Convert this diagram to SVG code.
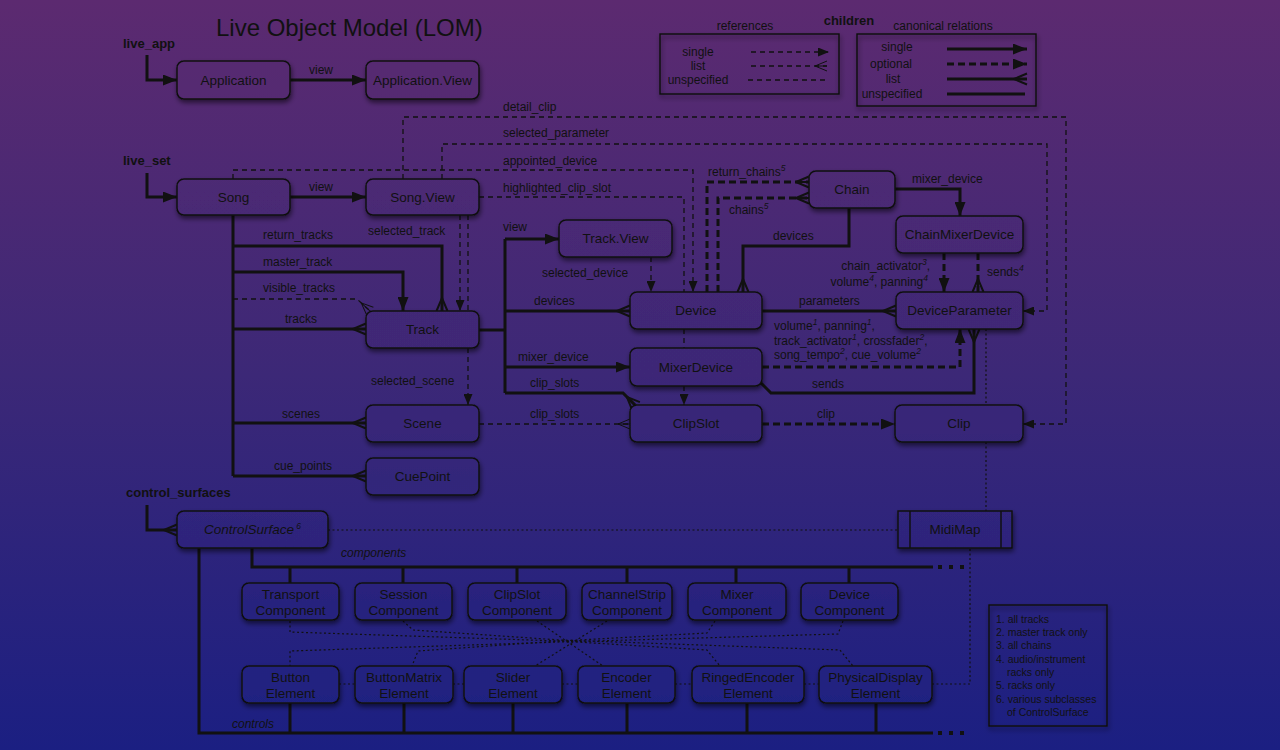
<svg xmlns="http://www.w3.org/2000/svg" width="1280" height="750" viewBox="0 0 1280 750">
<defs>
<linearGradient id="bg" gradientUnits="userSpaceOnUse" x1="0" y1="0" x2="0" y2="750">
<stop offset="0" stop-color="#5c2a70"/>
<stop offset="0.5" stop-color="#3c2877"/>
<stop offset="1" stop-color="#1b1f82"/>
</linearGradient>
<filter id="sh" x="-20%" y="-30%" width="140%" height="180%">
<feDropShadow dx="1" dy="3" stdDeviation="2.5" flood-color="#000" flood-opacity="0.55"/>
</filter>
<marker id="a" markerUnits="userSpaceOnUse" markerWidth="14" markerHeight="11" viewBox="0 0 14 11" refX="14" refY="5.5" orient="auto"><path d="M0,0 L14,5.5 L0,11 z" fill="#111"/></marker>
<marker id="at" markerUnits="userSpaceOnUse" markerWidth="11" markerHeight="9" viewBox="0 0 11 9" refX="11" refY="4.5" orient="auto"><path d="M0,0 L11,4.5 L0,9 z" fill="#111"/></marker>
<marker id="c" markerUnits="userSpaceOnUse" markerWidth="14" markerHeight="14" viewBox="0 0 14 14" refX="13" refY="7" orient="auto" overflow="visible"><path d="M0,7 L13,1.5 M0,7 L13,7 M0,7 L13,12.5" fill="none" stroke="#111" stroke-width="2"/></marker>
<marker id="ct" markerUnits="userSpaceOnUse" markerWidth="12" markerHeight="12" viewBox="0 0 12 12" refX="12" refY="6" orient="auto" overflow="visible"><path d="M0,6 L12,1 M0,6 L12,6 M0,6 L12,11" fill="none" stroke="#111" stroke-width="1"/></marker>
</defs>
<style>
text{font-family:"Liberation Sans",Arial,Helvetica,sans-serif;fill:#111}
.n rect{fill:url(#bg);stroke:#111;stroke-width:1.5;filter:url(#sh)}
.n text{font-size:13.5px;text-anchor:middle}
.lb{font-size:12px}
.bold{font-weight:bold;font-size:13px}
.sup{font-size:8.5px;font-style:italic;baseline-shift:super}
.s{fill:none;stroke:#111;stroke-width:3}
.o{fill:none;stroke:#111;stroke-width:3;stroke-dasharray:7 4}
.r{fill:none;stroke:#111;stroke-width:1.3;stroke-dasharray:5 4}
.d{fill:none;stroke:#111;stroke-width:1.2;stroke-dasharray:2 2.5}
.dots{fill:none;stroke:#111;stroke-width:4;stroke-dasharray:4 7}
.leg{fill:none;stroke:#111;stroke-width:1.5;filter:url(#sh)}
</style>
<rect x="0" y="0" width="1280" height="750" fill="url(#bg)"/>

<text x="216" y="36" style="font-size:24px">Live Object Model (LOM)</text>
<text x="123" y="48" class="bold">live_app</text>
<text x="123" y="165" class="bold">live_set</text>
<text x="126" y="497" class="bold">control_surfaces</text>

<g id="legend">
<rect x="660" y="34" width="179" height="60" class="leg"/>
<rect x="857" y="34" width="179" height="72" class="leg"/>
<text x="745" y="30" class="lb" text-anchor="middle">references</text>
<text x="849" y="25" class="bold" text-anchor="middle">children</text>
<text x="943" y="30" class="lb" text-anchor="middle">canonical relations</text>
<text x="698" y="56" class="lb" text-anchor="middle">single</text>
<text x="698" y="70" class="lb" text-anchor="middle">list</text>
<text x="698" y="84" class="lb" text-anchor="middle">unspecified</text>
<text x="897" y="51" class="lb" text-anchor="middle">single</text>
<text x="891" y="68" class="lb" text-anchor="middle">optional</text>
<text x="893" y="83" class="lb" text-anchor="middle">list</text>
<text x="892" y="98" class="lb" text-anchor="middle">unspecified</text>
<path d="M751,52 H829" class="r" marker-end="url(#at)"/>
<path d="M751,66 H827" class="r" marker-end="url(#ct)"/>
<path d="M748,80 H828" class="r"/>
<path d="M947,49 H1027" class="s" marker-end="url(#a)"/>
<path d="M947,64 H1027" class="o" marker-end="url(#a)"/>
<path d="M947,79 H1027" class="s" marker-end="url(#c)"/>
<path d="M947,94 H1025" class="s"/>
</g>

<g id="connectors">
<path d="M147,55 V80 H177" class="s" marker-end="url(#a)"/>
<path d="M290,80 H366" class="s" marker-end="url(#a)"/>
<path d="M147,173 V197 H177" class="s" marker-end="url(#a)"/>
<path d="M290,197 H366" class="s" marker-end="url(#a)"/>
<path d="M233,215 V476" class="s"/>
<path d="M233,246 H442 V311" class="s" marker-end="url(#c)"/>
<path d="M233,272 H403 V311" class="s" marker-end="url(#a)"/>
<path d="M233,299 H357 L370,311" class="r" marker-end="url(#ct)"/>
<path d="M233,329 H366" class="s" marker-end="url(#c)"/>
<path d="M233,423 H366" class="s" marker-end="url(#c)"/>
<path d="M233,476 H366" class="s" marker-end="url(#c)"/>
<path d="M460,215 V311" class="r" marker-end="url(#at)"/>
<path d="M468,215 V311 M468,348 V405" class="r" marker-end="url(#at)"/>
<path d="M403,179 V117 H1066 V424 H1023" class="r" marker-end="url(#at)"/>
<path d="M442,179 V144 H1047 V311 H1023" class="r" marker-end="url(#at)"/>
<path d="M233,179 V170 H693 V292" class="r" marker-end="url(#at)"/>
<path d="M479,197 H684 V292 M684,329 V348 M684,386 V405" class="r" marker-end="url(#at)"/>
<path d="M479,330 H505 M505,239 V393" class="s"/>
<path d="M505,239 H559" class="s" marker-end="url(#a)"/>
<path d="M505,311 H630" class="s" marker-end="url(#c)"/>
<path d="M505,367 H630" class="s" marker-end="url(#a)"/>
<path d="M505,393 H623 L636,406" class="s" marker-end="url(#c)"/>
<path d="M479,424 H630" class="r" marker-end="url(#ct)"/>
<path d="M651,257 V292" class="r" marker-end="url(#at)"/>
<path d="M707,292 V182 H809" class="o" marker-end="url(#c)"/>
<path d="M718,292 V198 H809" class="o" marker-end="url(#c)"/>
<path d="M849,208 V246 H743 V292" class="s" marker-end="url(#c)"/>
<path d="M895,189 H960 V216" class="s" marker-end="url(#a)"/>
<path d="M944,253 V292" class="o" marker-end="url(#a)"/>
<path d="M978,253 V292" class="o" marker-end="url(#c)"/>
<path d="M762,311 H896" class="s" marker-end="url(#c)"/>
<path d="M762,367 H960 V329" class="o" marker-end="url(#a)"/>
<path d="M760,382 L771,393 H974 V329" class="s" marker-end="url(#c)"/>
<path d="M762,424 H895" class="o" marker-end="url(#a)"/>
<path d="M986,329 V405 M986,442 V511" class="d"/>
<path d="M147,505 V530 H177" class="s" marker-end="url(#c)"/>
<path d="M328,530 H898" class="d"/>
<path d="M252,548 V567 H933 M290,567 V583 M403,567 V583 M517,567 V583 M627,567 V583 M736,567 V583 M849,567 V583" class="s"/>
<path d="M938,567 H966" class="dots"/>
<path d="M199,548 V733 H933 M290,703 V733 M404,703 V733 M513,703 V733 M627,703 V733 M747,703 V733 M876,703 V733" class="s"/>
<path d="M938,733 H966" class="dots"/>
<path d="M290,621 V632 L560,641 L707,650 L720,666" class="d"/>
<path d="M403,621 L413,630 L560,640 L840,650 L853,666" class="d"/>
<path d="M537,621 L603,666" class="d"/>
<path d="M607,621 L535,666" class="d"/>
<path d="M715,621 L707,633 L560,641 L418,651 L412,666" class="d"/>
<path d="M843,621 L838,634 L560,642 L290,651 V666" class="d"/>
<path d="M339,684 H355 M453,684 H464 M562,684 H578 M675,684 H692 M804,684 H819" class="d"/>
<path d="M932,684 H970 V548" class="d"/>
</g>

<g id="labels" class="lb">
<text x="309" y="74">view</text>
<text x="309" y="191">view</text>
<text x="503" y="111">detail_clip</text>
<text x="503" y="137">selected_parameter</text>
<text x="503" y="165">appointed_device</text>
<text x="503" y="192">highlighted_clip_slot</text>
<text x="263" y="239">return_tracks</text>
<text x="263" y="266">master_track</text>
<text x="263" y="292">visible_tracks</text>
<text x="285" y="323">tracks</text>
<text x="368" y="235">selected_track</text>
<text x="371" y="385">selected_scene</text>
<text x="282" y="418">scenes</text>
<text x="274" y="470">cue_points</text>
<text x="503" y="231">view</text>
<text x="542" y="277">selected_device</text>
<text x="534" y="305">devices</text>
<text x="518" y="361">mixer_device</text>
<text x="530" y="387">clip_slots</text>
<text x="530" y="418">clip_slots</text>
<text x="708" y="176">return_chains<tspan class="sup">5</tspan></text>
<text x="729" y="214">chains<tspan class="sup">5</tspan></text>
<text x="912" y="183">mixer_device</text>
<text x="773" y="240">devices</text>
<text x="930" y="270" text-anchor="end">chain_activator<tspan class="sup">3</tspan>,</text>
<text x="928" y="286" text-anchor="end">volume<tspan class="sup">4</tspan>, panning<tspan class="sup">4</tspan></text>
<text x="987" y="276">sends<tspan class="sup">4</tspan></text>
<text x="799" y="305">parameters</text>
<text x="774" y="330">volume<tspan class="sup">1</tspan>, panning<tspan class="sup">1</tspan>,</text>
<text x="774" y="345">track_activator<tspan class="sup">1</tspan>, crossfader<tspan class="sup">2</tspan>,</text>
<text x="774" y="359">song_tempo<tspan class="sup">2</tspan>, cue_volume<tspan class="sup">2</tspan></text>
<text x="812" y="388">sends</text>
<text x="817" y="418">clip</text>
<text x="341" y="557" font-style="italic">components</text>
<text x="232" y="728" font-style="italic">controls</text>
</g>

<g id="application" class="n"><rect x="177" y="61" width="113" height="38" rx="7"/><text x="233.5" y="85">Application</text></g>
<g id="application_view" class="n"><rect x="366" y="61" width="113" height="38" rx="7"/><text x="422.5" y="85">Application.View</text></g>
<g id="song" class="n"><rect x="177" y="179" width="113" height="36" rx="7"/><text x="233.5" y="202">Song</text></g>
<g id="song_view" class="n"><rect x="366" y="179" width="113" height="36" rx="7"/><text x="422.5" y="202">Song.View</text></g>
<g id="track" class="n"><rect x="366" y="311" width="113" height="37" rx="7"/><text x="422.5" y="334">Track</text></g>
<g id="scene" class="n"><rect x="366" y="405" width="113" height="37" rx="7"/><text x="422.5" y="428">Scene</text></g>
<g id="cuepoint" class="n"><rect x="366" y="458" width="113" height="37" rx="7"/><text x="422.5" y="481">CuePoint</text></g>
<g id="track_view" class="n"><rect x="559" y="220" width="113" height="37" rx="7"/><text x="615.5" y="243">Track.View</text></g>
<g id="device" class="n"><rect x="630" y="292" width="132" height="37" rx="7"/><text x="696" y="315">Device</text></g>
<g id="mixerdevice" class="n"><rect x="630" y="348" width="132" height="38" rx="7"/><text x="696" y="372">MixerDevice</text></g>
<g id="clipslot" class="n"><rect x="630" y="405" width="132" height="37" rx="7"/><text x="696" y="428">ClipSlot</text></g>
<g id="chain" class="n"><rect x="809" y="171" width="86" height="37" rx="7"/><text x="852" y="194">Chain</text></g>
<g id="chainmixerdevice" class="n"><rect x="896" y="216" width="127" height="37" rx="7"/><text x="959.5" y="239">ChainMixerDevice</text></g>
<g id="deviceparameter" class="n"><rect x="896" y="292" width="127" height="37" rx="7"/><text x="959.5" y="315">DeviceParameter</text></g>
<g id="clip" class="n"><rect x="895" y="405" width="128" height="37" rx="7"/><text x="959" y="428">Clip</text></g>
<g id="controlsurface" class="n"><rect x="177" y="511" width="151" height="37" rx="7"/><text x="252.5" y="534" font-style="italic">ControlSurface<tspan class="sup"> 6</tspan></text></g>
<g id="midimap" class="n"><rect x="898" y="511" width="114" height="37"/><path d="M910,511 V548 M1001,511 V548" stroke="#111" stroke-width="1.5"/><text x="955" y="534">MidiMap</text></g>

<g id="transport_component" class="n"><rect x="242" y="583" width="97" height="37" rx="7"/><text x="290.5" y="599">Transport</text><text x="290.5" y="615">Component</text></g>
<g id="session_component" class="n"><rect x="355" y="583" width="97" height="37" rx="7"/><text x="403.5" y="599">Session</text><text x="403.5" y="615">Component</text></g>
<g id="clipslot_component" class="n"><rect x="468" y="583" width="98" height="37" rx="7"/><text x="517" y="599">ClipSlot</text><text x="517" y="615">Component</text></g>
<g id="channelstrip_component" class="n"><rect x="582" y="583" width="90" height="37" rx="7"/><text x="627" y="599">ChannelStrip</text><text x="627" y="615">Component</text></g>
<g id="mixer_component" class="n"><rect x="688" y="583" width="98" height="37" rx="7"/><text x="737" y="599">Mixer</text><text x="737" y="615">Component</text></g>
<g id="device_component" class="n"><rect x="801" y="583" width="97" height="37" rx="7"/><text x="849.5" y="599">Device</text><text x="849.5" y="615">Component</text></g>

<g id="button_element" class="n"><rect x="242" y="666" width="97" height="37" rx="7"/><text x="290.5" y="682">Button</text><text x="290.5" y="698">Element</text></g>
<g id="buttonmatrix_element" class="n"><rect x="355" y="666" width="98" height="37" rx="7"/><text x="404" y="682">ButtonMatrix</text><text x="404" y="698">Element</text></g>
<g id="slider_element" class="n"><rect x="464" y="666" width="98" height="37" rx="7"/><text x="513" y="682">Slider</text><text x="513" y="698">Element</text></g>
<g id="encoder_element" class="n"><rect x="578" y="666" width="97" height="37" rx="7"/><text x="626.5" y="682">Encoder</text><text x="626.5" y="698">Element</text></g>
<g id="ringedencoder_element" class="n"><rect x="692" y="666" width="112" height="37" rx="7"/><text x="748" y="682">RingedEncoder</text><text x="748" y="698">Element</text></g>
<g id="physicaldisplay_element" class="n"><rect x="819" y="666" width="113" height="37" rx="7"/><text x="875.5" y="682">PhysicalDisplay</text><text x="875.5" y="698">Element</text></g>

<g id="footnotes">
<rect x="989" y="605" width="118" height="121" class="leg"/>
<g style="font-size:10.5px">
<text x="996" y="623">1. all tracks</text>
<text x="996" y="636">2. master track only</text>
<text x="996" y="649">3. all chains</text>
<text x="996" y="663">4. audio/instrument</text>
<text x="1007" y="676">racks only</text>
<text x="996" y="689">5. racks only</text>
<text x="996" y="703">6. various subclasses</text>
<text x="1007" y="716">of ControlSurface</text>
</g>
</g>
</svg>
